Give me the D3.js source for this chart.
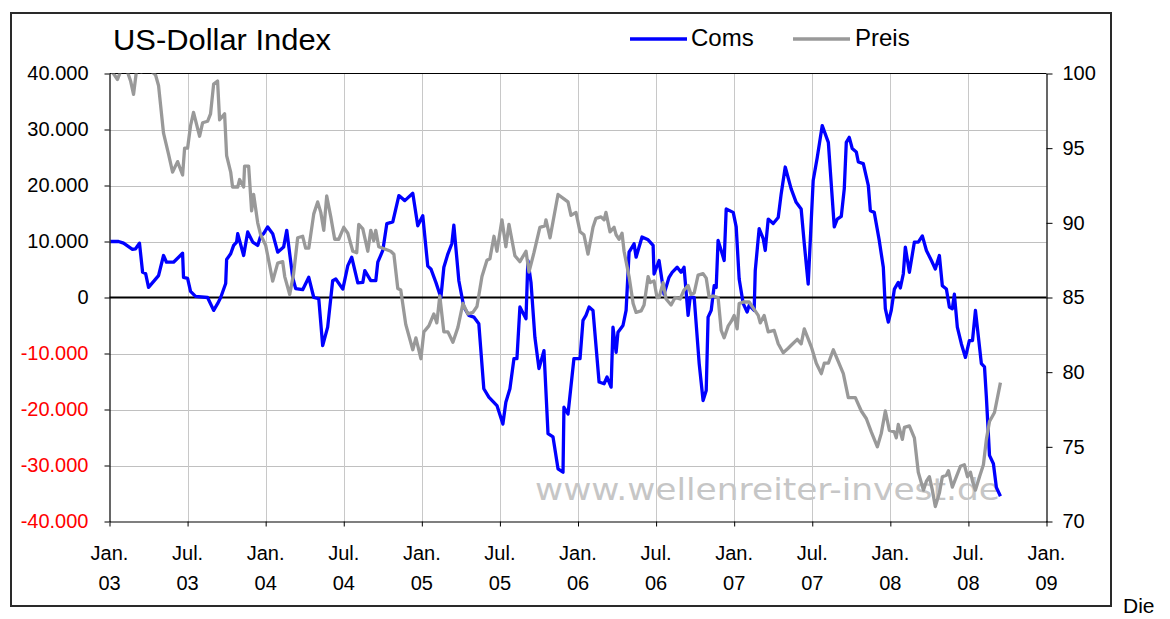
<!DOCTYPE html>
<html>
<head>
<meta charset="utf-8">
<script src="https://cdn.jsdelivr.net/npm/d3@7"></script>
<style>
  html, body { margin: 0; padding: 0; background: #fff; }
  svg { display: block; }
  text { font-family: "Liberation Sans", Arial, sans-serif; }
</style>
</head>
<body>
<script>
// ---------------- DATA ----------------
// time in years after 1 Jan 2003
const comsT = [0.006,0.058,0.090,0.147,0.167,0.192,0.212,0.231,0.250,0.314,0.346,0.365,0.410,0.468,0.474,0.500,0.519,0.551,0.628,0.647,0.667,0.692,0.712,0.744,0.750,0.776,0.795,0.814,0.821,0.859,0.885,0.917,0.949,0.968,0.987,1.013,1.045,1.077,1.115,1.135,1.173,1.192,1.237,1.276,1.308,1.340,1.365,1.397,1.429,1.449,1.494,1.526,1.551,1.590,1.622,1.635,1.673,1.705,1.718,1.750,1.776,1.814,1.853,1.891,1.942,1.974,2.006,2.038,2.058,2.090,2.122,2.141,2.167,2.192,2.205,2.237,2.269,2.301,2.333,2.365,2.397,2.429,2.481,2.519,2.538,2.564,2.590,2.609,2.628,2.667,2.679,2.699,2.724,2.750,2.782,2.808,2.840,2.872,2.904,2.910,2.936,2.974,3.013,3.032,3.051,3.071,3.096,3.135,3.167,3.186,3.212,3.224,3.244,3.256,3.288,3.308,3.327,3.359,3.372,3.410,3.449,3.481,3.487,3.519,3.551,3.583,3.603,3.635,3.660,3.679,3.705,3.718,3.744,3.776,3.801,3.821,3.833,3.853,3.872,3.885,3.897,3.917,3.936,3.949,3.994,4.013,4.032,4.058,4.083,4.096,4.128,4.135,4.160,4.186,4.199,4.218,4.250,4.282,4.301,4.327,4.365,4.397,4.429,4.449,4.474,4.506,4.532,4.564,4.603,4.641,4.660,4.686,4.705,4.718,4.737,4.756,4.782,4.795,4.827,4.859,4.872,4.897,4.929,4.955,4.968,4.987,5.006,5.026,5.051,5.064,5.083,5.096,5.122,5.154,5.179,5.205,5.231,5.263,5.288,5.314,5.333,5.359,5.378,5.397,5.410,5.429,5.455,5.481,5.506,5.526,5.545,5.583,5.603,5.615,5.635,5.660,5.679,5.705];
const comsValues = [10000,10000,9700,8600,8700,9700,4500,4300,1800,3900,7500,6300,6300,7900,3600,3400,1100,200,0,-1100,-2300,-1100,0,2500,6800,7800,9300,9900,11400,7500,11700,9900,9300,11000,11400,12600,11400,8100,9000,12000,3600,1600,1400,3600,0,-200,-8600,-5300,3000,3300,1500,5700,7200,2600,2700,4800,3000,3000,6300,8400,13200,13500,18200,17300,18600,12800,14600,5600,5100,2700,0,5400,7800,9600,12900,3000,-1700,-3200,-3500,-4700,-16300,-17800,-19300,-22600,-18700,-16300,-10900,-10900,-1700,-3800,6600,2700,-7100,-12700,-9500,-24300,-24900,-30600,-31200,-19600,-20800,-10900,-10900,-4100,-3200,-1700,-2300,-15100,-15400,-14200,-16000,-5300,-9800,-6200,-5000,-2300,8100,9600,7200,10800,10300,9300,4200,6600,600,3600,4500,5400,4500,5400,-3200,0,0,-11800,-18400,-16600,-3500,-2300,2100,1800,10200,8400,6600,15800,15200,12600,3300,-1100,-2600,-1400,-2300,4800,12300,10500,8400,14000,13200,14300,18500,23300,19400,17000,15800,9600,2400,20900,25000,30700,27700,12600,14000,14500,19400,27700,28600,26600,26000,24200,23900,20000,15500,15200,10200,5400,-2000,-4400,-2300,1500,2700,1700,4200,9000,4500,9900,9900,11000,8400,6600,5100,7500,2100,1500,-1700,-2000,600,-5300,-8300,-10700,-7700,-7700,-2300,-11800,-12400,-17800,-28200,-29700,-33900,-35500];

const preisT = [0.006,0.032,0.051,0.077,0.109,0.135,0.154,0.173,0.205,0.231,0.263,0.295,0.314,0.346,0.378,0.404,0.436,0.468,0.481,0.500,0.519,0.538,0.577,0.596,0.628,0.647,0.667,0.692,0.705,0.737,0.750,0.776,0.788,0.821,0.833,0.859,0.865,0.891,0.910,0.923,0.949,0.968,1.000,1.045,1.077,1.109,1.122,1.154,1.179,1.205,1.237,1.256,1.276,1.308,1.333,1.353,1.372,1.391,1.417,1.442,1.468,1.500,1.526,1.558,1.583,1.596,1.622,1.654,1.673,1.692,1.705,1.724,1.750,1.801,1.821,1.846,1.865,1.897,1.942,1.962,1.994,2.013,2.045,2.077,2.096,2.115,2.141,2.167,2.199,2.231,2.263,2.295,2.327,2.353,2.385,2.417,2.436,2.462,2.481,2.513,2.538,2.558,2.596,2.628,2.667,2.686,2.718,2.756,2.788,2.795,2.821,2.872,2.910,2.936,2.955,2.987,3.013,3.038,3.064,3.096,3.115,3.147,3.167,3.179,3.205,3.231,3.244,3.263,3.282,3.295,3.327,3.353,3.372,3.404,3.423,3.449,3.462,3.487,3.506,3.519,3.545,3.564,3.596,3.622,3.654,3.679,3.705,3.724,3.744,3.769,3.801,3.821,3.840,3.865,3.897,3.917,3.936,3.962,3.981,4.000,4.019,4.032,4.058,4.096,4.128,4.154,4.167,4.192,4.218,4.256,4.282,4.314,4.346,4.365,4.404,4.429,4.449,4.494,4.526,4.558,4.577,4.603,4.635,4.667,4.699,4.731,4.776,4.814,4.846,4.878,4.917,4.942,4.968,4.994,5.026,5.038,5.051,5.077,5.090,5.122,5.154,5.179,5.212,5.231,5.250,5.269,5.288,5.314,5.333,5.359,5.372,5.397,5.423,5.449,5.474,5.494,5.513,5.526,5.545,5.571,5.596,5.615,5.635,5.667,5.705];
const preisValues = [100.2,99.9,99.6,100.3,100.3,99.5,98.6,100.2,100.1,100.4,100.2,99.9,99.2,96.0,94.6,93.4,94.1,93.2,95.0,95.0,96.5,97.4,95.8,96.7,96.8,97.3,99.3,99.5,96.9,97.3,94.5,93.4,92.4,92.4,92.9,92.4,93.8,93.8,90.8,91.9,90.0,89.2,88.5,86.1,87.3,87.4,86.4,85.2,86.6,89.0,89.1,88.3,88.3,90.6,91.4,90.7,89.5,91.8,90.4,88.9,88.9,89.7,89.3,88.1,88.0,89.9,89.6,88.1,89.5,88.8,89.5,88.4,88.3,88.1,87.9,85.6,85.5,83.2,81.5,82.3,80.9,82.7,83.1,83.9,83.3,85.1,82.7,82.7,82.0,83.0,84.6,83.9,84.0,84.4,86.4,87.5,87.6,89.1,88.1,90.2,88.4,89.9,87.8,87.4,88.1,86.7,88.0,89.7,89.8,90.2,89.0,91.9,91.6,91.4,90.5,90.7,89.4,89.2,87.9,89.7,90.3,90.4,90.2,90.7,89.4,89.7,89.2,88.9,89.3,88.1,86.4,84.6,84.0,84.1,84.5,86.4,86.0,86.1,85.0,85.0,86.0,84.9,84.5,85.0,84.9,85.5,85.8,85.2,85.3,86.5,86.6,86.3,85.0,85.1,85.0,82.8,82.3,83.1,83.4,83.8,82.9,84.6,84.7,84.7,84.2,83.8,83.3,83.8,82.7,82.8,81.9,81.3,81.6,81.8,82.2,81.9,82.9,81.7,80.6,79.9,80.6,80.6,81.5,80.7,79.9,78.3,78.3,77.4,76.9,76.0,75.0,75.9,77.4,76.1,76.0,75.6,76.5,75.5,76.3,76.4,75.6,73.3,72.1,72.7,73.0,72.1,71.0,71.9,73.0,73.1,73.4,72.3,73.0,73.7,73.8,73.0,73.3,72.7,72.1,73.0,73.8,75.5,76.7,77.3,79.3];

const xTickT = [0,0.5,1,1.5,2,2.5,3,3.5,4,4.5,5,5.5,6];
const xTickMonth = ["Jan.","Jul.","Jan.","Jul.","Jan.","Jul.","Jan.","Jul.","Jan.","Jul.","Jan.","Jul.","Jan."];
const xTickYear = ["03","03","04","04","05","05","06","06","07","07","08","08","09"];
const leftTicks = [-40000,-30000,-20000,-10000,0,10000,20000,30000,40000];
const rightTicks = [70,75,80,85,90,95,100];
const titleText = "US-Dollar Index";
const seriesNames = ["Coms","Preis"];
const watermarkText = "www.wellenreiter-invest.de";

// ---------------- CHART ----------------
const W = 1170, H = 619;
const L = 109.5, R = 1046.5, T = 73.5, B = 521.5;

const svg = d3.select("body").append("svg").attr("width", W).attr("height", H);

// outer frame
svg.append("rect").attr("x", 11).attr("y", 13).attr("width", 1100).attr("height", 593)
  .attr("fill", "#fff").attr("stroke", "#2a2a2a").attr("stroke-width", 2);

const x = d3.scaleLinear().domain([0, 6]).range([L, R]);
const yL = d3.scaleLinear().domain([-40000, 40000]).range([B, T]);
const yR = d3.scaleLinear().domain([70, 100]).range([B, T]);

// gridlines
const grid = svg.append("g");
grid.selectAll("line.h").data(leftTicks.filter(v => v !== 0 && Math.abs(v) !== 40000))
  .join("line").attr("x1", L).attr("x2", R)
  .attr("y1", d => Math.round(yL(d)) + 0.5).attr("y2", d => Math.round(yL(d)) + 0.5)
  .attr("stroke", "#c0c0c0").attr("stroke-width", 1);
grid.selectAll("line.v").data(xTickT.filter(v => v > 0 && v < 6))
  .join("line").attr("y1", T).attr("y2", B)
  .attr("x1", d => Math.round(x(d)) + 0.5).attr("x2", d => Math.round(x(d)) + 0.5)
  .attr("stroke", "#c8c8c8").attr("stroke-width", 1);

// watermark
svg.append("text").attr("x", 535).attr("y", 500)
  .attr("textLength", 465).attr("lengthAdjust", "spacingAndGlyphs")
  .style("font-family", "'DejaVu Sans', Verdana, sans-serif")
  .style("font-size", "30px").attr("fill", "#c6c6c6")
  .text(watermarkText);

// top border
svg.append("line").attr("x1", L).attr("x2", R).attr("y1", T).attr("y2", T)
  .attr("stroke", "#000").attr("stroke-width", 1.2);

// zero line
svg.append("line").attr("x1", L).attr("x2", R).attr("y1", yL(0)).attr("y2", yL(0))
  .attr("stroke", "#000").attr("stroke-width", 2);

// clip
svg.append("clipPath").attr("id", "plotclip").append("rect")
  .attr("x", L).attr("y", T).attr("width", R - L).attr("height", B - T);

const lineL = d3.line().x(d => x(d[0])).y(d => yL(d[1]));
const lineR = d3.line().x(d => x(d[0])).y(d => yR(d[1]));

const comsData = comsT.map((t, i) => [t, comsValues[i]]);
const preisData = preisT.map((t, i) => [t, preisValues[i]]);

const lines = svg.append("g").attr("clip-path", "url(#plotclip)");
lines.append("path").datum(comsData).attr("d", lineL)
  .attr("fill", "none").attr("stroke", "#0000ff").attr("stroke-width", 3.3)
  .attr("stroke-linejoin", "round");
lines.append("path").datum(preisData).attr("d", lineR)
  .attr("fill", "none").attr("stroke", "#999999").attr("stroke-width", 3.3)
  .attr("stroke-linejoin", "round");

// axes
const de = d3.formatLocale({decimal: ",", thousands: ".", grouping: [3], currency: ["", "€"], minus: "-"});
const fmt = de.format(",.0f");

const axL = svg.append("g").attr("transform", `translate(${L},0)`)
  .call(d3.axisLeft(yL).tickValues(leftTicks).tickSize(5).tickSizeOuter(0).tickPadding(16).tickFormat(fmt));
axL.select(".domain").attr("stroke", "#000").attr("stroke-width", 1.2);
axL.selectAll(".tick line").attr("stroke", "#000");
axL.selectAll(".tick text").style("font-size", "20px").style("font-family", "'Liberation Sans', Arial, sans-serif")
  .attr("fill", d => d < 0 ? "#ff0000" : "#000");

const axR = svg.append("g").attr("transform", `translate(${R},0)`)
  .call(d3.axisRight(yR).tickValues(rightTicks).tickSize(6).tickSizeOuter(0).tickPadding(10));
axR.select(".domain").attr("stroke", "#000").attr("stroke-width", 1.2);
axR.selectAll(".tick line").attr("stroke", "#000");
axR.selectAll(".tick text").style("font-size", "20px").style("font-family", "'Liberation Sans', Arial, sans-serif")
  .attr("fill", "#000");

const axB = svg.append("g").attr("transform", `translate(0,${B})`)
  .call(d3.axisBottom(x).tickValues(xTickT).tickSize(5).tickSizeOuter(0).tickFormat(""));
axB.select(".domain").attr("stroke", "#000").attr("stroke-width", 1.2);
axB.selectAll(".tick line").attr("stroke", "#000");

const xl = svg.append("g");
xl.selectAll("text.m").data(xTickT).join("text")
  .attr("x", d => x(d)).attr("y", 560).attr("text-anchor", "middle")
  .style("font-size", "20px").attr("fill", "#000").text((d, i) => xTickMonth[i]);
xl.selectAll("text.y").data(xTickT).join("text")
  .attr("x", d => x(d)).attr("y", 590).attr("text-anchor", "middle")
  .style("font-size", "20px").attr("fill", "#000").text((d, i) => xTickYear[i]);

// title
svg.append("text").attr("x", 113).attr("y", 49.5)
  .attr("textLength", 218).attr("lengthAdjust", "spacingAndGlyphs")
  .style("font-size", "29px").attr("fill", "#000").text(titleText);

// legend
const leg = [{name: seriesNames[0], color: "#0000ff", x1: 630, x2: 687, tx: 691},
             {name: seriesNames[1], color: "#999999", x1: 793, x2: 850, tx: 855}];
const lg = svg.append("g");
lg.selectAll("line").data(leg).join("line")
  .attr("x1", d => d.x1).attr("x2", d => d.x2).attr("y1", 39).attr("y2", 39)
  .attr("stroke", d => d.color).attr("stroke-width", 3.3);
lg.selectAll("text").data(leg).join("text")
  .attr("x", d => d.tx).attr("y", 45.5).style("font-size", "24px").attr("fill", "#000")
  .text(d => d.name);

// trailing page text
svg.append("text").attr("x", 1123).attr("y", 613).style("font-size", "21px").attr("fill", "#000").text("Die");
</script>
</body>
</html>
